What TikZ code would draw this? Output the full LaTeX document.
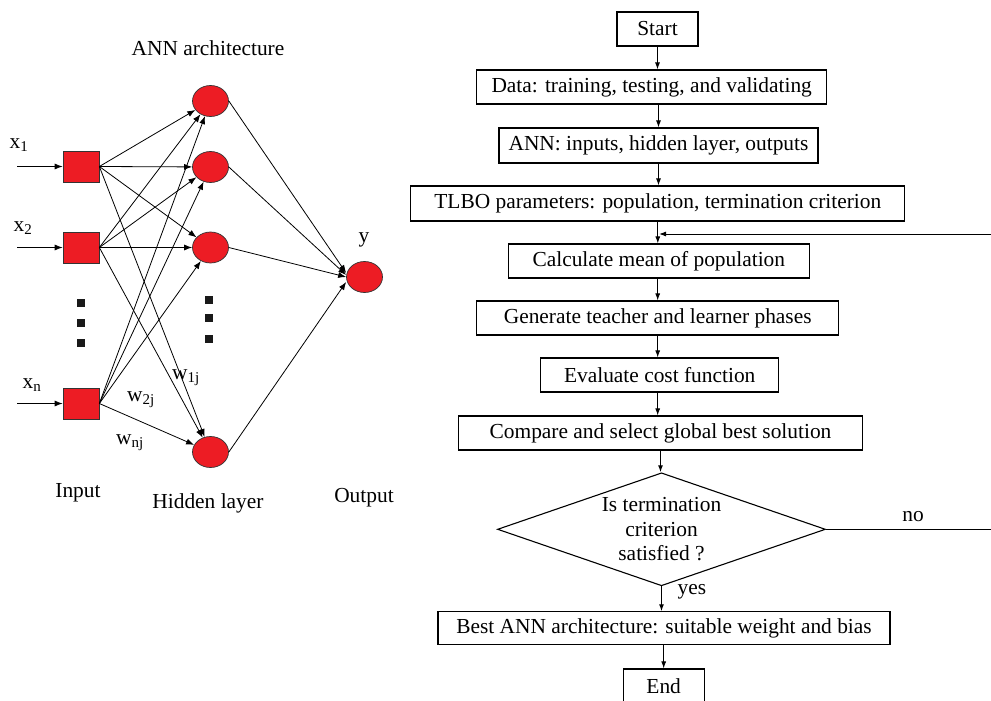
\documentclass[tikz,border=0pt]{standalone}
\usepackage{fontspec}
\setmainfont{Liberation Serif}
\usetikzlibrary{arrows.meta,shapes.geometric}
\definecolor{annred}{RGB}{237,28,36}
\newcommand\figfont{\fontsize{21.4pt}{24.7pt}\selectfont}
\begin{document}
\begin{tikzpicture}[x=1pt,y=-1pt,
  every node/.style={font=\figfont},
  box/.style={draw, line width=1.1pt, minimum height=34pt, inner sep=0pt},
  farr/.style={line width=1pt, -{Latex[length=7pt,width=5pt]}},
  narr/.style={line width=0.8pt, -{Latex[length=8pt,width=6pt]}},
  neuron/.style={ellipse, draw=black!80, line width=0.7pt, fill=annred, minimum width=36pt, minimum height=31pt, inner sep=0pt},
  inbox/.style={rectangle, draw=black!80, line width=0.7pt, fill=annred, minimum width=36pt, minimum height=31pt, inner sep=0pt},
  dotsq/.style={rectangle, fill=black!90, minimum size=8pt, inner sep=0pt}
]
\useasboundingbox (0,0) rectangle (991,701);

% ---------------- Flowchart ----------------
\node[box, minimum width=81pt] (start) at (657.5,29) {Start};
\node[box, minimum width=350pt] (data) at (651.7,87) {Data: training, testing, and validating};
\node[box, minimum width=319pt, minimum height=35pt] (ann) at (658.5,145.5) {ANN: inputs, hidden layer, outputs};
\node[box, minimum width=494pt, minimum height=35pt] (tlbo) at (657.8,203.5) {TLBO parameters: population, termination criterion};
\node[box, minimum width=301pt] (calc) at (658.8,261) {Calculate mean of population};
\node[box, minimum width=362pt] (gen) at (657.7,318) {Generate teacher and learner phases};
\node[box, minimum width=238pt] (eval) at (659.7,375) {Evaluate cost function};
\node[box, minimum width=404pt] (comp) at (660.5,433) {Compare and select global best solution};
\node[diamond, draw, line width=1.1pt, minimum width=328pt, minimum height=113pt, inner sep=0pt] (dia) at (661.5,529.3) {};
\node[align=center] (diatext) at (dia.center) {Is termination\\criterion\\satisfied ?};
\node[box, minimum width=452pt, minimum height=33pt] (best) at (664,628.3) {Best ANN architecture: suitable weight and bias};
\node[box, minimum width=81pt] (stop) at (663.7,686) {End};

\node (no) at (913,517) {no};
\node (yes) at (692,592) {yes};

\draw[farr] (start.south) -- (start.south |- data.north);
\draw[farr] (ann.north |- data.south) -- (ann.north);
\draw[farr] (ann.south) -- (ann.south |- tlbo.north);
\draw[farr] (tlbo.south) -- (tlbo.south |- calc.north);
\draw[farr] (gen.north |- calc.south) -- (gen.north);
\draw[farr] (gen.south) -- (gen.south |- eval.north);
\draw[farr] (eval.south -| gen.south) -- (comp.north -| gen.south);
\draw[farr] (comp.south) -- (comp.south |- dia.north);
\draw[farr] (dia.south) -- (dia.south |- best.north);
\draw[farr] (best.south -| stop.north) -- (stop.north);

\coordinate (loopin) at (659,234);
\draw[farr] (dia.east) -- ++(180,0) |- (loopin);

% ---------------- ANN ----------------
\node (title) at (208,48) {ANN architecture};

\node[inbox] (i1) at (81,166.5) {};
\node[inbox] (i2) at (81,247.5) {};
\node[inbox] (ixn) at (81,403.5) {};

\node[neuron] (h1) at (210.5,101) {};
\node[neuron] (h2) at (210.5,167) {};
\node[neuron] (h3) at (210.5,247.5) {};
\node[neuron] (h4) at (210.5,452) {};
\node[neuron] (out) at (364.5,277) {};

\node (lx1) at (19,145) {x\textsubscript{1}};
\node (lx2) at (23,228) {x\textsubscript{2}};
\node (lxn) at (32,385) {x\textsubscript{n}};
\node (ly) at (364,240) {y};

\coordinate (s1) at (17,166.5);
\coordinate (s2) at (17,247.5);
\coordinate (sn) at (17,403.5);
\draw[narr] (s1) -- (i1.west);
\draw[narr] (s2) -- (i2.west);
\draw[narr] (sn) -- (ixn.west);

\foreach \i in {i1,i2,ixn}
  \foreach \h in {h1,h2,h3,h4}
    \draw[narr] (\i.east) -- (\h);

\draw[narr] (h1.east) -- ([yshift=4pt]out.west);
\draw[narr] (h2.east) -- ([yshift=2pt]out.west);
\draw[narr] (h3.east) -- (out.west);
\draw[narr] (h4.east) -- ([yshift=-5pt]out.west);

\node[dotsq] (d1) at (81,303) {};
\node[dotsq] (d2) at (81,322.5) {};
\node[dotsq] (d3) at (81,342.5) {};
\node[dotsq] (e1) at (209,299.5) {};
\node[dotsq] (e2) at (209,318) {};
\node[dotsq] (e3) at (209,339) {};

\node (w1) at (186,378) {w\textsubscript{1j}};
\node (w2) at (141,400) {w\textsubscript{2j}};
\node (wn) at (130,443) {w\textsubscript{nj}};

\node (linput) at (78,493) {Input};
\node (lhidden) at (208,503) {Hidden layer};
\node (loutput) at (364,498) {Output};
\end{tikzpicture}
\end{document}
